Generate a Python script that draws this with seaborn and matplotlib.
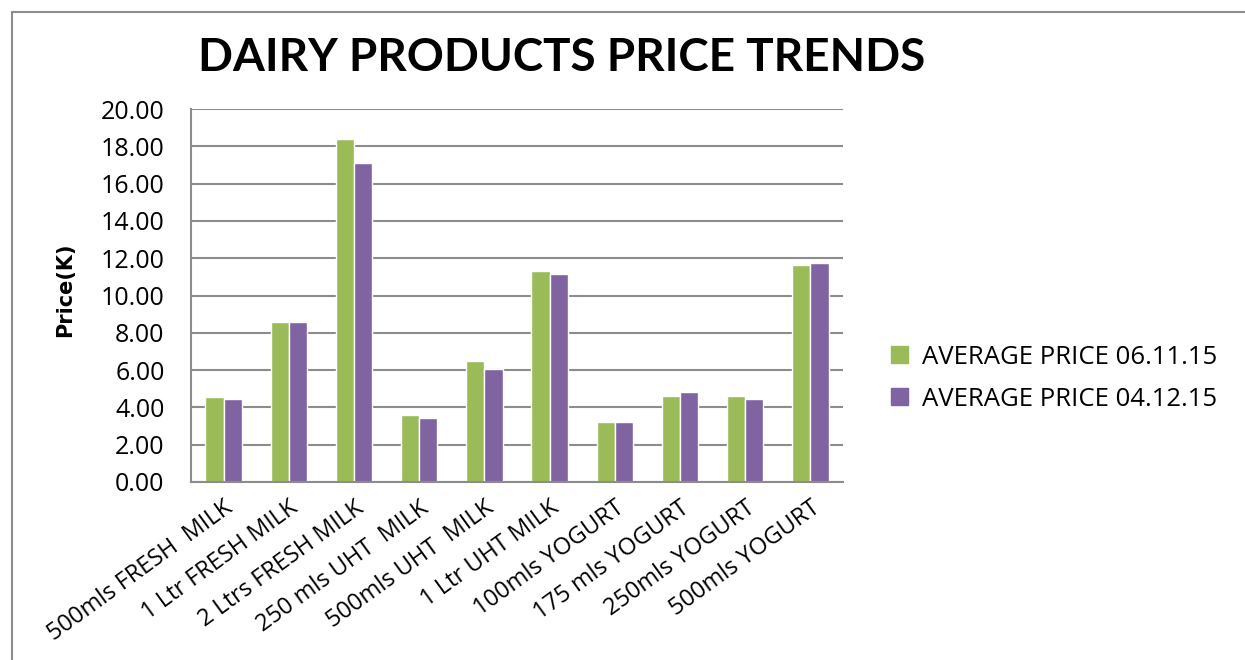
import pandas as pd
import seaborn as sns
import matplotlib.pyplot as plt
from matplotlib.lines import Line2D

PRODUCTS = ["500mls FRESH  MILK", "1 Ltr FRESH MILK", "2 Ltrs FRESH MILK",
            "250 mls UHT  MILK", "500mls UHT  MILK", "1 Ltr UHT MILK",
            "100mls YOGURT", "175 mls YOGURT", "250mls YOGURT",
            "500mls YOGURT"]
PRICE_NOV = [4.54, 8.56, 18.41, 3.59, 6.49, 11.33, 3.23, 4.63, 4.63, 11.62]
PRICE_DEC = [4.43, 8.56, 17.12, 3.41, 6.04, 11.15, 3.23, 4.81, 4.45, 11.73]
SERIES = ["AVERAGE PRICE 06.11.15", "AVERAGE PRICE 04.12.15"]
YTICKS = [0, 2, 4, 6, 8, 10, 12, 14, 16, 18, 20]

GREEN = "#9BBB59"
PURPLE = "#8064A2"
GRID = "#8c8c8c"

df = pd.DataFrame({
    "product": PRODUCTS * 2,
    "price": PRICE_NOV + PRICE_DEC,
    "series": [SERIES[0]] * len(PRODUCTS) + [SERIES[1]] * len(PRODUCTS),
})

sns.set_style("white")
plt.rcParams["font.family"] = ["Open Sans", "DejaVu Sans"]
plt.rcParams["text.color"] = "black"

fig = plt.figure(figsize=(12.45, 6.6), dpi=100)
ax = fig.add_axes([0.1534, 0.2697, 0.5237, 0.5651])

sns.barplot(data=df, x="product", y="price", hue="series",
            palette=[GREEN, PURPLE], width=0.56, gap=0, ax=ax,
            legend=False, saturation=1)

ax.set_ylim(0, 20)
ax.set_xlim(-0.5, len(PRODUCTS) - 0.5)
ax.set_yticks(YTICKS)
ax.set_yticklabels([f"{v:.2f}" for v in YTICKS], fontsize=18)
ax.yaxis.grid(True, color=GRID, linewidth=1.5)
ax.set_axisbelow(True)

# category boundary ticks like Excel
ax.set_xticks(range(len(PRODUCTS)))
ax.set_xticklabels(PRODUCTS, rotation=36, ha="right",
                   rotation_mode="anchor", fontsize=17)
ax.set_xticks([i - 0.5 for i in range(len(PRODUCTS) + 1)], minor=True)
ax.tick_params(axis="x", which="major", length=0, pad=10,
               labelcolor="black")
ax.tick_params(axis="x", which="minor", length=6, color=GRID, width=1.5,
               direction="out")
ax.tick_params(axis="y", length=6, color=GRID, width=1.5, direction="out",
               pad=13, labelcolor="black")

for side in ["top", "right"]:
    ax.spines[side].set_visible(False)
for side in ["left", "bottom"]:
    ax.spines[side].set_color(GRID)
    ax.spines[side].set_linewidth(1.5)

ax.set_xlabel("")
ax.set_ylabel("Price(K)", fontsize=15, fontweight="bold", color="black",
              family=["Liberation Sans Narrow", "DejaVu Sans"])
ax.yaxis.set_label_coords(-0.178, 0.515)

fig.text(0.451, 0.912, "DAIRY PRODUCTS PRICE TRENDS", ha="center",
         va="center", fontsize=33, fontweight="bold", color="black",
         family=["Lato", "DejaVu Sans"])

handles = [plt.Rectangle((0, 0), 1, 1, color=GREEN),
           plt.Rectangle((0, 0), 1, 1, color=PURPLE)]
fig.legend(handles, SERIES, loc="center left",
           bbox_to_anchor=(0.697, 0.427), frameon=False, fontsize=18.5,
           handlelength=0.65, handleheight=0.65, handletextpad=0.55,
           labelspacing=0.65)

# outer chart frame
fig.add_artist(Line2D([0.0096, 0.0096], [0.0, 0.982], color=GRID,
                      linewidth=1.5, transform=fig.transFigure))
fig.add_artist(Line2D([0.0096, 1.0], [0.982, 0.982], color=GRID,
                      linewidth=1.5, transform=fig.transFigure))

fig.savefig("out.png", dpi=100)
